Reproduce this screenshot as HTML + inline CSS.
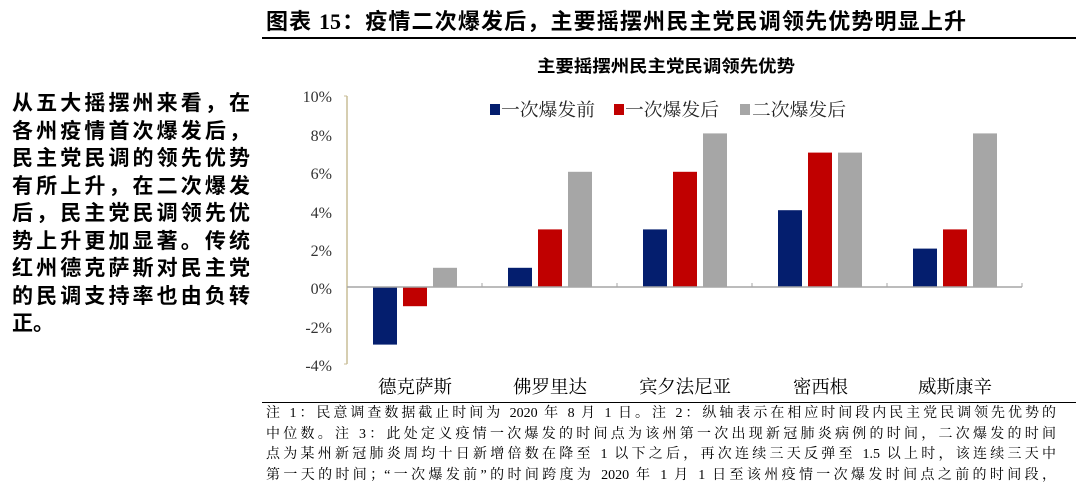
<!DOCTYPE html>
<html><head><meta charset="utf-8"><style>
body{margin:0;width:1077px;height:495px;background:#fff;overflow:hidden;position:relative;font-family:"Liberation Serif","Noto Serif CJK SC",serif;}
.t{position:absolute;white-space:nowrap}
.j{text-align:justify;text-align-last:justify;white-space:nowrap}
</style></head><body>
<div class="t j" style="left:266px;top:4px;width:700px;font-size:22px;font-weight:bold;font-family:'Liberation Serif','Noto Sans CJK SC',sans-serif;">图表 15：疫情二次爆发后，主要摇摆州民主党民调领先优势明显上升</div>
<div style="position:absolute;left:262px;top:37px;width:814px;height:2px;background:#000"></div>
<div style="position:absolute;left:12px;top:89px;width:238px;font-size:21px;font-weight:bold;line-height:27.5px;font-family:'Noto Sans CJK SC',sans-serif;">
<div class="j">从五大摇摆州来看，在</div><div class="j">各州疫情首次爆发后，</div><div class="j">民主党民调的领先优势</div><div class="j">有所上升，在二次爆发</div><div class="j">后，民主党民调领先优</div><div class="j">势上升更加显著。传统</div><div class="j">红州德克萨斯对民主党</div><div class="j">的民调支持率也由负转</div><div>正。</div></div>
<svg width="1077" height="495" style="position:absolute;left:0;top:0" font-family="Liberation Serif, Noto Serif CJK SC, serif">
<text x="537" y="72" font-size="17" font-weight="bold" textLength="258" lengthAdjust="spacingAndGlyphs" font-family="Noto Sans CJK SC, sans-serif">主要摇摆州民主党民调领先优势</text>
<g font-size="16" fill="#333" text-anchor="end">
<text x="332" y="102">10%</text><text x="332" y="141">8%</text><text x="332" y="179">6%</text><text x="332" y="218">4%</text><text x="332" y="256">2%</text><text x="332" y="294">0%</text><text x="332" y="333">-2%</text><text x="332" y="371">-4%</text>
</g>
<line x1="347" y1="96" x2="347" y2="364" stroke="#c8bd97" stroke-width="1.5"/>
<g stroke="#c8bd97"><line x1="344" y1="96" x2="347" y2="96"/><line x1="344" y1="364" x2="347" y2="364"/></g>
<g>
<rect x="373" y="287" width="24" height="57.6" fill="#041e6e"/><rect x="403" y="287" width="24" height="19.2" fill="#c00000"/><rect x="433" y="267.8" width="24" height="19.2" fill="#a6a6a6"/>
<rect x="508" y="267.8" width="24" height="19.2" fill="#041e6e"/><rect x="538" y="229.4" width="24" height="57.6" fill="#c00000"/><rect x="568" y="171.8" width="24" height="115.2" fill="#a6a6a6"/>
<rect x="643" y="229.4" width="24" height="57.6" fill="#041e6e"/><rect x="673" y="171.8" width="24" height="115.2" fill="#c00000"/><rect x="703" y="133.4" width="24" height="153.6" fill="#a6a6a6"/>
<rect x="778" y="210.2" width="24" height="76.8" fill="#041e6e"/><rect x="808" y="152.6" width="24" height="134.4" fill="#c00000"/><rect x="838" y="152.6" width="24" height="134.4" fill="#a6a6a6"/>
<rect x="913" y="248.6" width="24" height="38.4" fill="#041e6e"/><rect x="943" y="229.4" width="24" height="57.6" fill="#c00000"/><rect x="973" y="133.4" width="24" height="153.6" fill="#a6a6a6"/>
</g>
<line x1="347" y1="287" x2="1022" y2="287" stroke="#a6a6a6" stroke-width="1.5"/>
<g stroke="#a6a6a6"><line x1="482" y1="283" x2="482" y2="287"/><line x1="617" y1="283" x2="617" y2="287"/><line x1="752" y1="283" x2="752" y2="287"/><line x1="887" y1="283" x2="887" y2="287"/><line x1="1022" y1="283" x2="1022" y2="287"/></g>
<g font-size="18" font-family="Noto Serif CJK SC, serif">
<text x="378" y="393" textLength="74" lengthAdjust="spacingAndGlyphs">德克萨斯</text><text x="513" y="393" textLength="74" lengthAdjust="spacingAndGlyphs">佛罗里达</text><text x="639" y="393" textLength="92" lengthAdjust="spacingAndGlyphs">宾夕法尼亚</text><text x="793" y="393" textLength="55" lengthAdjust="spacingAndGlyphs">密西根</text><text x="918" y="393" textLength="74" lengthAdjust="spacingAndGlyphs">威斯康辛</text>
</g>
<g font-size="18" font-family="Noto Serif CJK SC, serif" fill="#222">
<rect x="490" y="104" width="10" height="11" fill="#041e6e"/><text x="501" y="116" textLength="94" lengthAdjust="spacingAndGlyphs">一次爆发前</text>
<rect x="614" y="104" width="10" height="11" fill="#c00000"/><text x="625" y="116" textLength="94" lengthAdjust="spacingAndGlyphs">一次爆发后</text>
<rect x="740" y="104" width="10" height="11" fill="#a6a6a6"/><text x="752" y="116" textLength="94" lengthAdjust="spacingAndGlyphs">二次爆发后</text>
</g>
</svg>
<div style="position:absolute;left:262px;top:402px;width:814px;height:1px;background:#000"></div>
<div style="position:absolute;left:266px;top:404px;width:790px;font-size:14px;line-height:20.5px;">
<div class="j">注 1：民意调查数据截止时间为 2020 年 8 月 1 日。注 2：纵轴表示在相应时间段内民主党民调领先优势的</div>
<div class="j">中位数。注 3：此处定义疫情一次爆发的时间点为该州第一次出现新冠肺炎病例的时间，二次爆发的时间</div>
<div class="j">点为某州新冠肺炎周均十日新增倍数在降至 1 以下之后，再次连续三天反弹至 1.5 以上时，该连续三天中</div>
<div class="j">第一天的时间；“一次爆发前”的时间跨度为 2020 年 1 月 1 日至该州疫情一次爆发时间点之前的时间段，</div>
</div>
</body></html>
